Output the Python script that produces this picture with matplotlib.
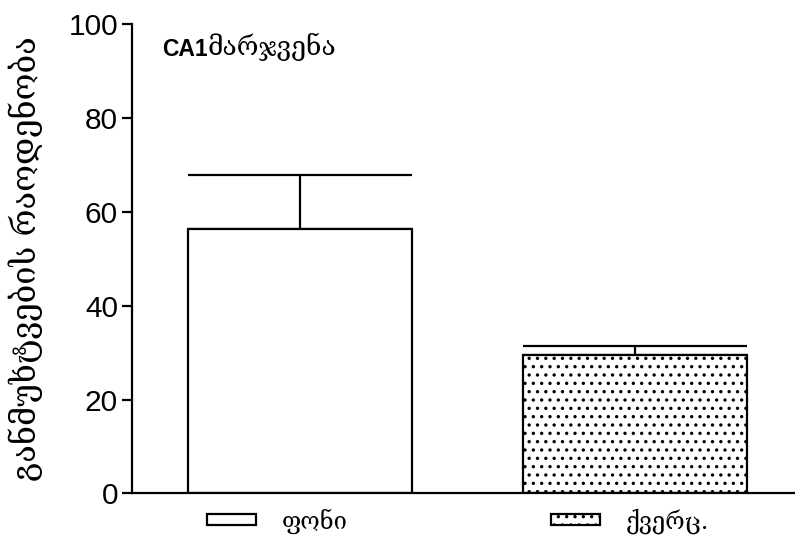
import numpy as np
import matplotlib
matplotlib.use("Agg")
import matplotlib.pyplot as plt
from matplotlib.patches import Patch

groups = ["ფონი", "ქვერც."]
means = [56.3, 29.5]
errs_up = [11.6, 1.9]
hatches = ["", ".."]
ylab = "განმუხტვების რაოდენობა"
title_a = "CA1"
title_b = "მარჯვენა"
yticks = [0, 20, 40, 60, 80, 100]

geo = ["DejaVu Serif", "DejaVu Sans"]
plt.rcParams["font.family"] = ["Liberation Sans", "DejaVu Sans"]
plt.rcParams["hatch.linewidth"] = 1.2

fig = plt.figure(figsize=(7.95, 5.41), dpi=100)
ax = fig.add_axes([0.166, 0.088, 0.834, 0.867])

x = np.arange(len(means))
w = 0.669
bars = ax.bar(x, means, width=w, color="white", edgecolor="black", linewidth=1.6, zorder=2)
for b, h in zip(bars, hatches):
    b.set_hatch(h)
ax.errorbar(x, means, yerr=[np.zeros(len(means)), errs_up], fmt="none",
            ecolor="black", elinewidth=1.6, capsize=80.6, capthick=1.6, zorder=1)

ax.set_xlim(-0.5015, 1.4776)
ax.set_ylim(0, 100)
ax.set_yticks(yticks)
ax.set_xticks([])
ax.spines["top"].set_visible(False)
ax.spines["right"].set_visible(False)
ax.spines["left"].set_linewidth(1.6)
ax.spines["bottom"].set_linewidth(1.6)
ax.tick_params(axis="y", length=7, width=1.6, labelsize=21.5, pad=3)

ax.set_ylabel(ylab, fontsize=23.5, family=geo, labelpad=18)

t1 = ax.text(0.045, 0.933, title_a, transform=ax.transAxes, fontsize=16.5,
             fontweight="bold", va="baseline", ha="left")
ax.annotate(title_b, xy=(1, 0), xycoords=t1, va="bottom", ha="left",
            fontsize=19, family=geo)

handles = [Patch(facecolor="white", edgecolor="black", hatch=h, linewidth=1.6)
           for h in hatches]
fig.legend(handles, groups, loc="center", bbox_to_anchor=(0.576, 0.037), ncol=2,
           frameon=False, prop={"family": geo, "size": 17}, handlelength=2.07,
           handleheight=0.34, handletextpad=1.1, columnspacing=8.6)

fig.savefig("out.png", dpi=100)
